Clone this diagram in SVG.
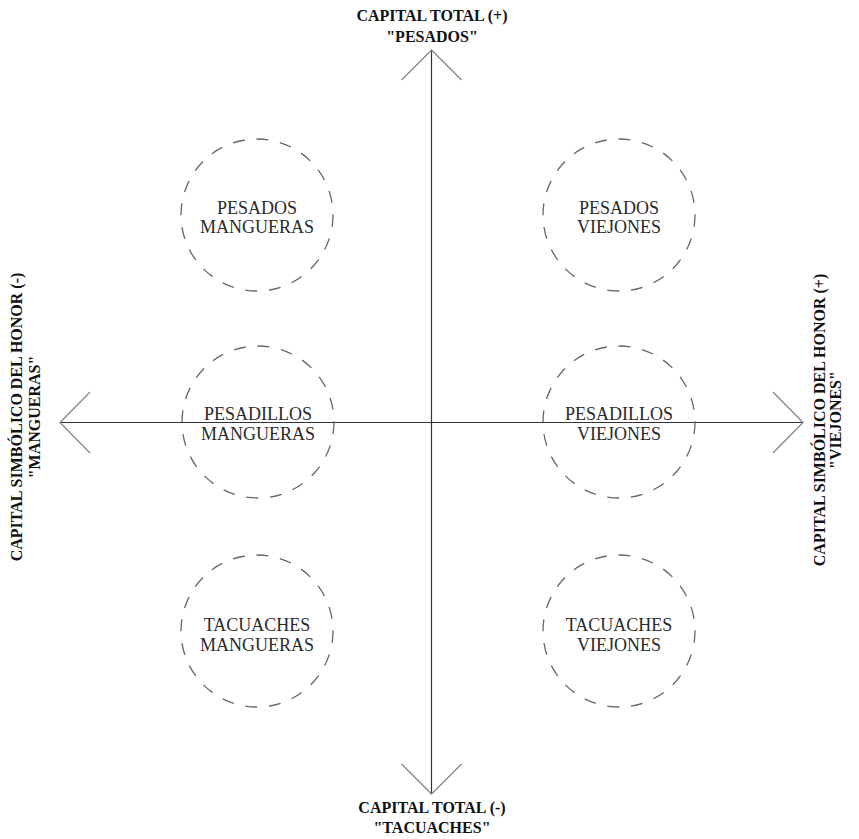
<svg xmlns="http://www.w3.org/2000/svg" width="859" height="839" viewBox="0 0 859 839">
<style>
.axis{stroke:#333;stroke-width:1.2;fill:none}
.wing{stroke:#888;stroke-width:1.3;fill:none}
.ring{stroke:#666;stroke-width:1.3;fill:none;stroke-dasharray:12 11.8}
.lbl{font-family:"Liberation Serif","Times New Roman",serif;font-size:18px;fill:#2a2a2a;text-anchor:middle}
.ax{font-family:"Liberation Serif","Times New Roman",serif;font-size:16px;font-weight:bold;fill:#111;text-anchor:middle}
</style>
<rect width="859" height="839" fill="#fff"/>
<g id="connectors">
<line class="axis" x1="431.5" y1="50" x2="431.5" y2="794"/>
<line class="axis" x1="60" y1="422.5" x2="803" y2="422.5"/>
<polyline class="wing" points="401.5,80 431.5,50 461.5,80"/>
<polyline class="wing" points="401.5,764 431.5,794 461.5,764"/>
<polyline class="wing" points="90,392 60,422.5 90,453"/>
<polyline class="wing" points="773,392 803,422.5 773,453"/>
</g>
<g id="label-top"><text class="ax" x="432" y="21">CAPITAL TOTAL (+)</text><text class="ax" x="432" y="42">"PESADOS"</text></g>
<g id="label-bottom"><text class="ax" x="432" y="813">CAPITAL TOTAL (-)</text><text class="ax" x="432" y="833">"TACUACHES"</text></g>
<g id="label-left" transform="translate(22,417) rotate(-90)"><text class="ax" x="0" y="0">CAPITAL SIMBÓLICO DEL HONOR (-)</text><text class="ax" x="0" y="18">"MANGUERAS"</text></g>
<g id="label-right" transform="translate(825,420) rotate(-90)"><text class="ax" x="0" y="0">CAPITAL SIMBÓLICO DEL HONOR (+)</text><text class="ax" x="0" y="16">"VIEJONES"</text></g>
<g id="pesados-mangueras"><circle class="ring" cx="257" cy="215" r="76"/><text class="lbl" x="257" y="214">PESADOS</text><text class="lbl" x="257" y="233">MANGUERAS</text></g>
<g id="pesados-viejones"><circle class="ring" cx="619" cy="215" r="76"/><text class="lbl" x="619" y="214">PESADOS</text><text class="lbl" x="619" y="233">VIEJONES</text></g>
<g id="pesadillos-mangueras"><circle class="ring" cx="258" cy="422" r="76"/><text class="lbl" x="258" y="420">PESADILLOS</text><text class="lbl" x="258" y="440">MANGUERAS</text></g>
<g id="pesadillos-viejones"><circle class="ring" cx="619" cy="422" r="76"/><text class="lbl" x="619" y="420">PESADILLOS</text><text class="lbl" x="619" y="440">VIEJONES</text></g>
<g id="tacuaches-mangueras"><circle class="ring" cx="257" cy="631" r="76"/><text class="lbl" x="257" y="631">TACUACHES</text><text class="lbl" x="257" y="651">MANGUERAS</text></g>
<g id="tacuaches-viejones"><circle class="ring" cx="619" cy="631" r="76"/><text class="lbl" x="619" y="631">TACUACHES</text><text class="lbl" x="619" y="651">VIEJONES</text></g>
</svg>
